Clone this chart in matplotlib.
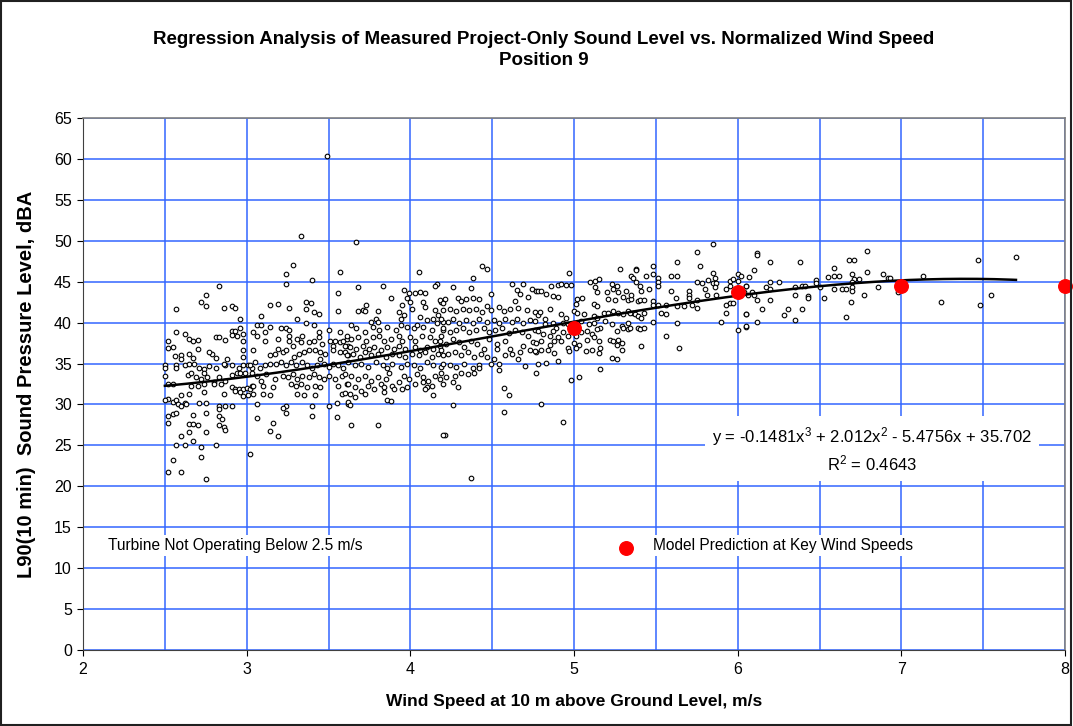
import numpy as np
import matplotlib.pyplot as plt
from matplotlib.patches import Rectangle

plt.rcParams['font.family'] = ['Liberation Sans', 'DejaVu Sans']
plt.rcParams['mathtext.fontset'] = 'custom'
plt.rcParams['mathtext.rm'] = 'Liberation Sans'
plt.rcParams['mathtext.it'] = 'Liberation Sans'

# measured L90 (wind speed m/s, dBA), grouped by wind speed band
band_25_30 = [
    (2.83, 44.5), (2.75, 43.4), (2.72, 42.5), (2.75, 42.0), (2.57, 41.6), (2.86, 41.8), (2.91, 42.0), (2.93, 41.8),
    (2.96, 40.4), (2.57, 38.9), (2.52, 37.7), (2.55, 37.0), (2.52, 36.9), (2.62, 38.6), (2.65, 38.0), (2.67, 37.7),
    (2.70, 37.9), (2.70, 36.8), (2.81, 38.2), (2.83, 38.2), (2.87, 37.9), (2.91, 39.0), (2.93, 39.0), (2.96, 39.3),
    (2.91, 38.5), (2.94, 38.4), (2.98, 38.6), (2.98, 37.8), (2.56, 35.9), (2.60, 36.1), (2.60, 35.6), (2.65, 36.2),
    (2.67, 35.7), (2.79, 36.2), (2.81, 35.7), (2.77, 36.4), (2.88, 35.6), (2.98, 36.6), (2.98, 35.8), (2.50, 34.8),
    (2.50, 34.4), (2.50, 33.5), (2.57, 34.8), (2.57, 34.4), (2.62, 34.8), (2.65, 35.0), (2.68, 35.0), (2.71, 34.4),
    (2.74, 34.3), (2.77, 34.7), (2.81, 34.4), (2.87, 34.8), (2.86, 35.0), (2.91, 34.8), (2.95, 34.4), (2.98, 34.8),
    (3.01, 34.8), (3.03, 34.4), (3.03, 33.9), (2.64, 33.6), (2.66, 33.9), (2.69, 33.3), (2.72, 33.1), (2.74, 33.9),
    (2.76, 33.3), (2.80, 32.8), (2.83, 33.3), (2.87, 32.9), (2.91, 33.6), (2.94, 33.9), (2.96, 33.9), (2.99, 33.8),
    (2.52, 32.5), (2.55, 32.5), (2.66, 32.2), (2.70, 32.2), (2.74, 32.5), (2.80, 32.5), (2.84, 32.5), (2.91, 32.1),
    (2.93, 31.9), (2.95, 31.9), (2.98, 31.9), (3.00, 32.0), (3.02, 31.9), (3.03, 32.3), (2.60, 31.1), (2.65, 31.3),
    (2.74, 31.5), (2.86, 31.3), (2.93, 31.6), (2.96, 31.5), (2.98, 31.0), (3.01, 31.1), (2.52, 30.7), (2.50, 30.6),
    (2.55, 30.3), (2.57, 30.5), (2.62, 30.2), (2.58, 30.0), (2.60, 29.8), (2.63, 30.0), (2.71, 30.2), (2.75, 30.2),
    (2.83, 29.8), (2.87, 29.8), (2.91, 29.8), (2.83, 29.5), (2.52, 28.6), (2.55, 28.8), (2.57, 29.0), (2.67, 28.7),
    (2.75, 29.0), (2.83, 28.6), (2.85, 28.2), (2.86, 27.2), (2.87, 26.9), (2.52, 27.7), (2.65, 27.6), (2.67, 27.6),
    (2.70, 27.5), (2.83, 27.5), (2.60, 26.1), (2.65, 26.6), (2.75, 26.6), (2.57, 25.0), (2.62, 25.1), (2.67, 25.5),
    (2.72, 24.8), (2.81, 25.1), (2.55, 23.2), (2.72, 23.6), (2.52, 21.8), (2.60, 21.8), (2.75, 20.9), (3.02, 23.9),
]
band_30_36 = [
    (3.24, 45.9), (3.24, 44.7), (3.40, 45.2), (3.57, 46.2), (3.56, 43.6), (3.56, 41.4), (3.14, 42.1), (3.19, 42.3),
    (3.26, 41.8), (3.36, 42.5), (3.39, 42.4), (3.36, 41.6), (3.41, 41.3), (3.44, 41.1), (3.09, 40.8), (3.31, 40.5),
    (3.36, 40.0), (3.41, 39.7), (3.50, 39.1), (3.57, 38.9), (3.06, 39.7), (3.09, 39.7), (3.14, 39.5), (3.04, 38.9),
    (3.06, 38.4), (3.11, 38.9), (3.11, 37.7), (3.21, 39.3), (3.24, 39.3), (3.26, 39.1), (3.19, 38.0), (3.26, 38.4),
    (3.26, 37.8), (3.28, 37.2), (3.31, 38.0), (3.33, 37.6), (3.34, 38.4), (3.38, 37.6), (3.41, 37.8), (3.44, 38.9),
    (3.44, 38.2), (3.46, 37.4), (3.51, 37.7), (3.53, 37.2), (3.54, 37.8), (3.57, 37.6), (3.59, 37.8), (3.61, 38.0),
    (3.62, 37.2), (3.04, 36.6), (3.14, 36.0), (3.17, 36.2), (3.19, 36.8), (3.22, 36.4), (3.24, 36.6), (3.29, 35.8),
    (3.32, 36.2), (3.35, 36.4), (3.38, 36.6), (3.42, 36.6), (3.45, 36.4), (3.48, 36.2), (3.53, 36.6), (3.57, 36.4),
    (3.60, 36.4), (3.62, 36.0), (3.02, 34.8), (3.05, 35.2), (3.08, 34.5), (3.11, 34.8), (3.14, 35.0), (3.18, 35.0),
    (3.21, 35.2), (3.24, 34.8), (3.27, 35.2), (3.30, 34.8), (3.34, 35.2), (3.37, 34.8), (3.40, 34.4), (3.43, 34.8),
    (3.45, 35.6), (3.47, 35.0), (3.50, 34.6), (3.53, 35.0), (3.56, 34.8), (3.59, 34.4), (3.06, 33.5), (3.09, 32.9),
    (3.12, 33.7), (3.17, 33.1), (3.22, 33.5), (3.25, 33.3), (3.28, 33.7), (3.31, 33.1), (3.34, 33.5), (3.38, 33.3),
    (3.41, 33.7), (3.44, 33.3), (3.47, 33.1), (3.50, 33.5), (3.54, 33.1), (3.58, 33.5), (3.04, 32.3), (3.10, 32.3),
    (3.16, 32.1), (3.27, 32.5), (3.30, 32.3), (3.33, 32.5), (3.37, 32.1), (3.42, 32.3), (3.45, 32.1), (3.56, 32.3),
    (3.61, 32.5), (3.04, 31.3), (3.10, 31.3), (3.14, 31.1), (3.31, 31.3), (3.35, 31.1), (3.42, 31.1), (3.58, 31.3),
    (3.06, 30.0), (3.24, 29.8), (3.40, 29.8), (3.50, 29.8), (3.55, 30.2), (3.62, 30.0), (3.22, 29.6), (3.24, 28.9),
    (3.40, 28.6), (3.55, 28.5), (3.06, 28.3), (3.16, 27.7), (3.14, 26.7), (3.19, 26.1), (3.28, 47.0), (3.33, 50.6),
    (3.49, 60.4), (3.67, 49.8),
]
band_36_42 = [
    (4.05, 46.2), (3.68, 44.3), (3.83, 44.5), (4.16, 44.7), (4.15, 44.5), (3.96, 44.0), (3.99, 43.6), (3.98, 43.0),
    (4.03, 43.6), (4.06, 43.7), (4.09, 43.6), (3.88, 43.0), (3.73, 42.2), (3.71, 41.5), (3.68, 41.4), (3.72, 41.4),
    (3.80, 41.4), (3.95, 42.1), (4.00, 42.5), (4.01, 41.7), (4.08, 42.5), (4.09, 41.9), (4.15, 41.5), (4.19, 42.5),
    (3.93, 41.3), (3.96, 40.9), (3.94, 40.5), (3.79, 40.5), (3.80, 40.1), (3.76, 40.1), (4.06, 40.7), (4.10, 40.3),
    (4.14, 40.5), (4.17, 40.9), (4.20, 40.1), (3.64, 39.7), (3.67, 39.3), (3.72, 38.9), (3.77, 39.5), (3.81, 39.1),
    (3.86, 39.5), (3.91, 39.1), (3.94, 39.7), (3.98, 39.5), (4.02, 39.3), (4.04, 39.7), (4.08, 39.5), (4.13, 39.1),
    (4.16, 39.9), (4.20, 39.1), (3.61, 38.4), (3.64, 38.0), (3.68, 38.2), (3.73, 37.8), (3.77, 38.2), (3.81, 38.4),
    (3.84, 37.8), (3.88, 38.0), (3.93, 38.4), (3.95, 37.8), (4.00, 38.2), (4.03, 37.8), (4.07, 38.4), (4.12, 38.2),
    (4.15, 37.8), (4.19, 38.4), (3.60, 37.2), (3.63, 37.0), (3.67, 36.8), (3.71, 37.2), (3.75, 36.8), (3.78, 37.0),
    (3.82, 36.6), (3.86, 37.0), (3.90, 36.8), (3.93, 37.2), (3.97, 36.8), (4.03, 37.0), (4.06, 36.6), (4.10, 37.0),
    (4.14, 36.8), (4.18, 37.2), (3.61, 36.0), (3.65, 36.2), (3.69, 35.8), (3.72, 36.4), (3.76, 36.0), (3.80, 36.2),
    (3.85, 35.8), (3.89, 36.2), (3.93, 36.0), (3.97, 35.8), (4.01, 36.2), (4.05, 36.0), (4.09, 36.4), (4.13, 35.8),
    (4.17, 36.2), (4.20, 36.0), (3.62, 35.2), (3.66, 34.8), (3.70, 35.0), (3.74, 34.6), (3.79, 35.2), (3.83, 34.8),
    (3.86, 34.4), (3.89, 35.0), (3.94, 34.6), (3.98, 35.0), (4.02, 34.8), (4.06, 34.4), (4.10, 35.2), (4.14, 34.8),
    (4.19, 34.6), (3.60, 33.7), (3.64, 33.5), (3.68, 33.1), (3.72, 33.5), (3.76, 32.9), (3.80, 33.3), (3.85, 33.1),
    (3.87, 33.9), (3.96, 33.5), (3.99, 33.1), (4.04, 33.7), (4.08, 33.3), (4.11, 32.9), (4.15, 33.5), (4.18, 33.1),
    (3.62, 32.5), (3.66, 32.1), (3.70, 31.7), (3.74, 32.3), (3.78, 31.9), (3.82, 32.5), (3.84, 32.1), (3.89, 32.3),
    (3.93, 32.7), (3.98, 32.1), (4.03, 32.5), (4.08, 32.7), (4.10, 32.1), (4.13, 32.3), (4.20, 32.5), (3.60, 31.4),
    (3.63, 31.3), (3.66, 30.9), (3.72, 31.3), (3.84, 31.5), (3.90, 31.9), (3.95, 31.9), (4.09, 31.9), (4.14, 31.2),
    (3.62, 30.3), (3.63, 29.9), (3.86, 30.5), (3.88, 30.4), (3.64, 27.5), (3.80, 27.5), (4.21, 26.3),
]
band_42_48 = [
    (4.38, 45.5), (4.47, 46.5), (4.44, 46.9), (4.26, 44.3), (4.37, 44.2), (4.49, 43.5), (4.62, 44.7), (4.69, 44.7),
    (4.65, 44.0), (4.67, 43.5), (4.74, 44.1), (4.77, 43.8), (4.64, 42.6), (4.72, 43.1), (4.18, 42.7), (4.21, 42.9),
    (4.20, 42.4), (4.29, 43.0), (4.31, 42.6), (4.34, 42.9), (4.38, 43.0), (4.42, 42.9), (4.20, 41.5), (4.24, 41.7),
    (4.28, 41.4), (4.32, 41.7), (4.36, 41.5), (4.40, 41.6), (4.44, 41.3), (4.47, 42.0), (4.49, 41.5), (4.54, 41.9),
    (4.57, 41.4), (4.61, 41.6), (4.66, 41.8), (4.71, 41.5), (4.76, 41.3), (4.19, 40.5), (4.23, 40.1), (4.26, 40.5),
    (4.30, 39.9), (4.34, 40.3), (4.38, 39.9), (4.42, 40.5), (4.47, 40.1), (4.51, 40.3), (4.54, 39.9), (4.58, 40.5),
    (4.62, 40.1), (4.65, 40.5), (4.69, 39.9), (4.73, 40.3), (4.78, 40.9), (4.20, 39.3), (4.24, 38.9), (4.28, 39.1),
    (4.32, 39.3), (4.36, 38.9), (4.40, 39.1), (4.45, 39.3), (4.48, 38.9), (4.52, 39.1), (4.56, 39.3), (4.60, 38.7),
    (4.64, 39.1), (4.68, 38.9), (4.72, 38.4), (4.76, 39.1), (4.18, 37.8), (4.22, 37.4), (4.26, 38.0), (4.30, 37.6),
    (4.33, 37.0), (4.37, 37.8), (4.41, 37.4), (4.45, 36.8), (4.48, 38.0), (4.53, 37.4), (4.58, 37.8), (4.61, 36.8),
    (4.67, 36.4), (4.69, 37.2), (4.75, 37.6), (4.77, 36.4), (4.19, 36.6), (4.23, 36.2), (4.27, 36.4), (4.31, 36.0),
    (4.35, 36.4), (4.39, 35.8), (4.43, 36.2), (4.47, 35.8), (4.51, 35.6), (4.53, 36.8), (4.58, 36.0), (4.62, 36.2),
    (4.66, 35.6), (4.73, 36.6), (4.20, 35.0), (4.24, 34.8), (4.28, 34.6), (4.33, 35.0), (4.38, 34.4), (4.42, 34.8),
    (4.49, 35.0), (4.54, 34.9), (4.54, 34.2), (4.70, 34.7), (4.78, 35.0), (4.19, 33.9), (4.22, 33.3), (4.27, 33.5),
    (4.31, 33.9), (4.35, 33.7), (4.39, 33.9), (4.42, 34.4), (4.26, 32.7), (4.29, 32.1), (4.57, 32.0), (4.60, 31.1),
    (4.26, 29.9), (4.57, 29.1), (4.20, 26.3), (4.37, 21.0),
]
band_48_54 = [
    (4.97, 46.0), (5.28, 46.6), (5.38, 46.5), (5.35, 45.7), (5.10, 44.9), (5.13, 45.1), (5.15, 45.3), (4.86, 44.5),
    (4.90, 44.6), (4.92, 44.7), (4.95, 44.6), (4.98, 44.6), (4.78, 43.8), (4.80, 43.8), (4.83, 43.5), (4.87, 43.3),
    (4.90, 43.1), (5.23, 44.7), (5.26, 44.5), (5.24, 44.1), (5.27, 43.7), (5.32, 43.9), (5.30, 43.1), (5.33, 42.7),
    (5.35, 42.9), (5.13, 44.3), (5.14, 43.7), (5.20, 43.7), (5.21, 42.9), (5.25, 42.7), (5.02, 42.9), (5.05, 43.0),
    (5.01, 42.3), (5.12, 42.3), (5.14, 42.0), (4.79, 41.3), (4.85, 41.7), (4.92, 41.0), (4.95, 40.6), (5.00, 41.4),
    (5.02, 41.2), (5.06, 41.0), (5.12, 40.8), (5.14, 40.6), (5.18, 41.2), (5.21, 41.2), (5.24, 41.4), (5.27, 41.2),
    (5.30, 41.0), (5.33, 41.4), (5.36, 41.2), (4.76, 40.2), (4.82, 40.4), (4.82, 39.8), (4.87, 40.0), (4.89, 39.4),
    (4.93, 40.0), (4.96, 39.8), (5.04, 40.2), (5.09, 39.8), (5.12, 40.0), (5.16, 39.4), (5.19, 40.2), (5.23, 39.8),
    (5.29, 39.6), (5.33, 40.0), (4.78, 39.0), (4.81, 38.6), (4.85, 38.4), (4.87, 39.0), (4.90, 38.2), (4.93, 38.8),
    (4.96, 38.4), (5.01, 38.4), (5.04, 38.8), (5.08, 39.0), (5.11, 38.6), (5.14, 39.2), (5.26, 39.0), (5.30, 39.4),
    (5.33, 39.2), (4.77, 37.5), (4.80, 37.7), (4.85, 37.3), (4.88, 37.7), (4.92, 37.7), (4.96, 36.9), (5.00, 37.5),
    (5.03, 37.3), (5.08, 37.9), (5.12, 38.2), (5.15, 37.7), (5.22, 37.9), (5.24, 37.7), (5.26, 37.3), (5.27, 37.9),
    (5.29, 37.5), (4.76, 36.5), (4.80, 36.7), (4.84, 36.7), (4.88, 36.3), (4.97, 36.5), (5.01, 36.9), (5.07, 36.5),
    (5.11, 36.7), (5.15, 36.3), (5.16, 36.9), (5.29, 36.7), (5.23, 35.7), (5.26, 35.5), (4.83, 35.1), (4.90, 35.3),
    (4.77, 33.9), (5.16, 34.3), (5.03, 33.4), (4.98, 33.0), (4.80, 30.1), (4.93, 27.8),
]
band_54_60 = [
    (5.85, 49.6), (5.75, 48.6), (5.63, 47.4), (5.77, 46.9), (5.48, 46.9), (5.38, 46.4), (5.36, 45.5), (5.44, 45.7),
    (5.48, 45.9), (5.51, 45.5), (5.51, 45.0), (5.51, 44.5), (5.59, 45.7), (5.63, 45.7), (5.85, 46.1), (5.86, 45.5),
    (5.75, 45.0), (5.78, 44.8), (5.82, 45.2), (5.85, 44.8), (5.87, 44.8), (5.86, 44.3), (5.95, 45.1), (5.97, 45.3),
    (5.95, 44.5), (6.00, 45.9), (6.02, 45.7), (6.00, 45.1), (6.05, 44.5), (6.06, 43.4), (5.38, 44.9), (5.40, 44.5),
    (5.41, 43.8), (5.46, 44.1), (5.35, 43.4), (5.59, 43.8), (5.70, 43.8), (5.70, 43.4), (5.80, 44.1), (5.81, 43.4),
    (5.62, 43.0), (5.70, 43.0), (5.75, 42.8), (5.87, 43.4), (5.93, 44.1), (5.39, 42.6), (5.40, 42.8), (5.43, 42.8),
    (5.48, 42.6), (5.48, 42.2), (5.51, 42.2), (5.56, 42.2), (5.63, 42.0), (5.67, 42.0), (5.72, 42.2), (5.75, 41.8),
    (5.93, 42.1), (5.95, 42.4), (5.97, 42.4), (5.34, 41.2), (5.37, 41.0), (5.39, 40.8), (5.41, 40.6), (5.43, 41.2),
    (5.53, 41.2), (5.56, 41.0), (5.48, 40.1), (5.93, 41.2), (5.90, 40.1), (5.34, 39.3), (5.39, 39.3), (5.40, 39.2),
    (5.43, 39.3), (5.63, 39.9), (5.56, 38.4), (5.64, 36.9), (5.41, 37.1), (6.00, 39.1), (6.05, 39.5), (6.05, 41.0),
]
band_60_78 = [
    (6.12, 48.5), (6.12, 48.2), (6.79, 48.8), (6.20, 47.4), (6.38, 47.4), (6.68, 47.6), (6.71, 47.6), (6.10, 46.4),
    (6.07, 45.6), (6.59, 46.7), (6.79, 46.2), (6.55, 45.6), (6.59, 45.7), (6.62, 45.7), (6.70, 45.9), (6.89, 45.9),
    (6.92, 45.5), (6.20, 45.0), (6.25, 45.0), (6.48, 45.2), (6.48, 44.8), (6.71, 45.3), (6.74, 45.3), (6.70, 44.9),
    (6.05, 44.5), (6.09, 43.7), (6.10, 43.4), (6.04, 43.7), (6.17, 44.3), (6.20, 44.1), (6.35, 44.3), (6.39, 44.5),
    (6.41, 44.5), (6.50, 44.3), (6.59, 44.1), (6.64, 44.1), (6.66, 44.1), (6.70, 44.3), (6.70, 43.9), (6.86, 44.4),
    (6.35, 43.4), (6.43, 43.3), (6.43, 43.0), (6.53, 43.0), (6.77, 43.4), (6.12, 42.8), (6.20, 42.8), (6.69, 42.5),
    (6.15, 41.6), (6.31, 41.7), (6.39, 41.7), (6.05, 41.0), (6.28, 40.9), (6.35, 40.3), (6.12, 40.1), (6.66, 40.7),
    (6.05, 39.6), (6.93, 45.4), (7.13, 45.7), (7.47, 47.7), (7.70, 48.0), (6.98, 43.7), (7.24, 42.5), (7.48, 42.2),
    (7.55, 43.4),
]

# model prediction at key wind speeds
key_speeds = [5, 6, 7, 8]
key_levels = [39.4, 43.7, 44.5, 44.5]

# 3rd order polynomial trendline, valid over the operating range
fit_coef = [-0.1481, 2.012, -5.4756, 35.702]
fit_range = (2.5, 7.7)

measured = np.array(band_25_30 + band_30_36 + band_36_42 + band_42_48
                    + band_48_54 + band_54_60 + band_60_78)

fig = plt.figure(figsize=(10.73, 7.26), dpi=100)
ax = fig.add_axes([0.0774, 0.1047, 0.9152, 0.7328])

grid_blue = '#3366FF'
ax.set_xlim(2, 8)
ax.set_ylim(0, 65)
ax.set_xticks(np.arange(2, 9, 1))
ax.set_xticks(np.arange(2.5, 8, 1), minor=True)
ax.set_yticks(np.arange(0, 66, 5))
ax.grid(True, which='both', axis='x', color=grid_blue, lw=1.1, zorder=0)
ax.grid(True, which='major', axis='y', color=grid_blue, lw=1.1, zorder=0)
ax.set_axisbelow(True)
ax.tick_params(axis='both', which='major', labelsize=11.5, length=4, direction='out')
ax.tick_params(axis='x', which='major', pad=5)
ax.tick_params(axis='y', which='major', pad=4)
ax.tick_params(axis='x', which='minor', length=0)
for side in ['top', 'right']:
    ax.spines[side].set_color('#808080')
    ax.spines[side].set_linewidth(1.2)
for side in ['left', 'bottom']:
    ax.spines[side].set_color('#404040')

ax.scatter(measured[:, 0], measured[:, 1], s=11, facecolors='white', edgecolors='black',
           linewidths=0.8, zorder=3)

xs = np.linspace(fit_range[0], fit_range[1], 200)
ax.plot(xs, np.polyval(fit_coef, xs), color='black', lw=1.8, zorder=4)

ax.scatter(key_speeds, key_levels, s=95, color='#FF0000', zorder=5, clip_on=False)

ax.text(6.82, 24.5, 'y = -0.1481x$^3$ + 2.012x$^2$ - 5.4756x + 35.702\nR$^2$ = 0.4643',
        ha='center', va='center', fontsize=12, linespacing=1.35, zorder=6,
        bbox=dict(facecolor='white', edgecolor='none', pad=5))
ax.text(2.15, 12.8, 'Turbine Not Operating Below 2.5 m/s', ha='left', va='center',
        fontsize=11.2, zorder=6, bbox=dict(facecolor='white', edgecolor='none', pad=2))
ax.scatter([5.32], [12.5], s=95, color='#FF0000', zorder=6)
ax.text(5.48, 12.8, 'Model Prediction at Key Wind Speeds', ha='left', va='center',
        fontsize=11.2, zorder=6, bbox=dict(facecolor='white', edgecolor='none', pad=2))

ax.set_xlabel('Wind Speed at 10 m above Ground Level, m/s', fontsize=12.5, fontweight='bold', labelpad=12)
ax.set_ylabel('L90(10 min)  Sound Pressure Level, dBA', fontsize=14.5, fontweight='bold', labelpad=13)

fig.text(0.507, 0.946, 'Regression Analysis of Measured Project-Only Sound Level vs. Normalized Wind Speed',
         ha='center', va='center', fontsize=13.5, fontweight='bold')
fig.text(0.507, 0.916, 'Position 9', ha='center', va='center', fontsize=13.5, fontweight='bold')

fig.patches.append(Rectangle((0.001, 0.002), 0.997, 0.996, transform=fig.transFigure,
                             fill=False, edgecolor='#202020', lw=1.5))

fig.savefig('out.png', dpi=100)
